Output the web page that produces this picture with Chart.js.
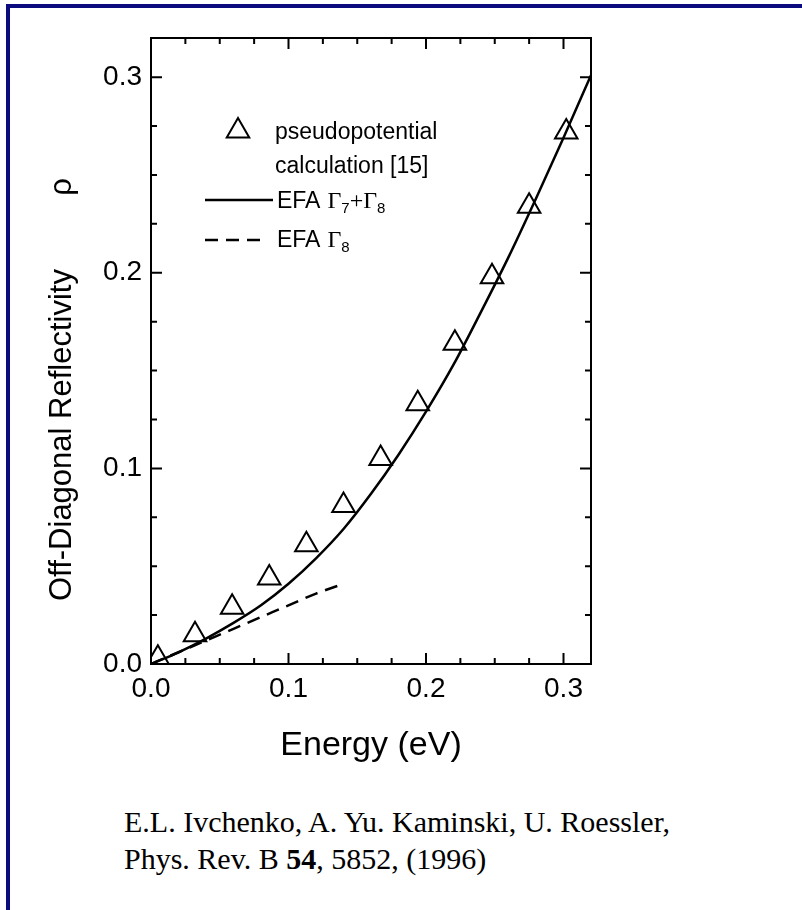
<!DOCTYPE html>
<html>
<head>
<meta charset="utf-8">
<title>Off-Diagonal Reflectivity</title>
<script src="https://cdn.jsdelivr.net/npm/chart.js@4.4.0/dist/chart.umd.min.js"></script>
<style>
  html, body { margin: 0; padding: 0; background: #fff; }
  body { width: 802px; height: 910px; position: relative; overflow: hidden; }
  #plotBox { position: absolute; left: 0; top: 0; width: 802px; height: 780px; }
  #frameTop { position: absolute; left: 6px; top: 4px; width: 796px; height: 4px; background: #0b0b7d; }
  #frameLeft { position: absolute; left: 6px; top: 4px; width: 4px; height: 906px; background: #0b0b7d; }
  #cite {
    position: absolute; left: 124px; top: 803px;
    font-family: "Liberation Serif", "Times New Roman", serif;
    font-size: 30px; line-height: 37px; color: #000;
  }
</style>
</head>
<body>
<div id="plotBox"><canvas id="reflChart"></canvas></div>
<div id="frameTop"></div>
<div id="frameLeft"></div>
<div id="cite">E.L. Ivchenko, A. Yu. Kaminski, U. Roessler,<br>Phys. Rev. B <b>54</b>, 5852, (1996)</div>

<script>
// pseudopotential calculation [15] (triangles)
const calcEnergy = [0.005, 0.032, 0.059, 0.086, 0.113, 0.140, 0.167, 0.194, 0.221, 0.248, 0.275, 0.302];
const calcRho    = [0.003, 0.015, 0.029, 0.044, 0.061, 0.081, 0.105, 0.133, 0.164, 0.198, 0.234, 0.272];

// EFA Gamma7+Gamma8 (solid line)
const efaEnergy = [0, 0.02, 0.04, 0.06, 0.08, 0.10, 0.12, 0.14, 0.16, 0.18, 0.20, 0.22, 0.24, 0.26, 0.28, 0.30, 0.32];
const efaRho    = [0, 0.006, 0.013, 0.021, 0.030, 0.041, 0.054, 0.069, 0.087, 0.107, 0.129, 0.153, 0.180, 0.208, 0.238, 0.269, 0.301];

// EFA Gamma8 (dashed line)
const g8Energy = [0, 0.02, 0.04, 0.06, 0.08, 0.10, 0.12, 0.14];
const g8Rho    = [0, 0.006, 0.012, 0.018, 0.024, 0.030, 0.036, 0.041];

// axes
const xTicks = [0.0, 0.1, 0.2, 0.3];
const yTicks = [0.0, 0.1, 0.2, 0.3];
const minorStep = 0.025;

const sans = '"Liberation Sans", Arial, Helvetica, sans-serif';
const serif = '"Liberation Serif", "Times New Roman", serif';

const toPoints = (xs, ys) => xs.map((x, i) => ({ x: x, y: ys[i] }));

// frame + inward ticks on all four sides
const insideTicks = {
  id: 'insideTicks',
  afterDraw(chart) {
    const { ctx, chartArea: a, scales: { x, y } } = chart;
    ctx.save();
    ctx.strokeStyle = '#000';
    ctx.lineWidth = 2;
    ctx.strokeRect(a.left, a.top, a.right - a.left, a.bottom - a.top);
    ctx.beginPath();
    const nx = Math.floor(x.max / minorStep + 1e-6);
    for (let i = 0; i <= nx; i++) {
      const px = x.getPixelForValue(i * minorStep);
      const len = i % 4 === 0 ? 11 : 6;
      ctx.moveTo(px, a.bottom); ctx.lineTo(px, a.bottom - len);
      ctx.moveTo(px, a.top); ctx.lineTo(px, a.top + len);
    }
    const ny = Math.floor(y.max / minorStep + 1e-6);
    for (let i = 0; i <= ny; i++) {
      const py = y.getPixelForValue(i * minorStep);
      const len = i % 4 === 0 ? 11 : 6;
      ctx.moveTo(a.left, py); ctx.lineTo(a.left + len, py);
      ctx.moveTo(a.right, py); ctx.lineTo(a.right - len, py);
    }
    ctx.stroke();
    ctx.restore();
  }
};

// rotated y axis title with the rho symbol set apart
const sideTitle = {
  id: 'sideTitle',
  afterDraw(chart) {
    const ctx = chart.ctx;
    ctx.save();
    ctx.translate(62, 601);
    ctx.rotate(-Math.PI / 2);
    ctx.fillStyle = '#000';
    ctx.textBaseline = 'middle';
    ctx.font = '31px ' + sans;
    ctx.textAlign = 'left';
    ctx.fillText('Off-Diagonal Reflectivity', 0, 0);
    ctx.textAlign = 'center';
    ctx.fillText('\u03C1', 414, 0);
    ctx.restore();
  }
};

function drawRun(ctx, x, y, parts) {
  parts.forEach(p => {
    ctx.font = p.font;
    ctx.fillText(p.text, x, y + (p.dy || 0));
    x += ctx.measureText(p.text).width + (p.gap || 0);
  });
}

// legend drawn inside the plot area
const keyBox = {
  id: 'keyBox',
  afterDraw(chart) {
    const ctx = chart.ctx;
    const main = '23px ' + sans;
    const sym = '24px ' + serif;
    const sub = '15px ' + sans;
    ctx.save();
    ctx.strokeStyle = '#000';
    ctx.fillStyle = '#000';
    ctx.lineWidth = 2;
    // triangle marker
    const r = 13, cx = 238, cy = 131;
    ctx.beginPath();
    ctx.moveTo(cx, cy - r);
    ctx.lineTo(cx + r * Math.sin(Math.PI / 3), cy + r / 2);
    ctx.lineTo(cx - r * Math.sin(Math.PI / 3), cy + r / 2);
    ctx.closePath();
    ctx.stroke();
    ctx.textBaseline = 'middle';
    ctx.textAlign = 'left';
    ctx.font = main;
    ctx.fillText('pseudopotential', 275, 133);
    ctx.fillText('calculation [15]', 275, 167);
    // solid line
    ctx.lineWidth = 2.5;
    ctx.beginPath();
    ctx.moveTo(205, 200); ctx.lineTo(273, 200);
    ctx.stroke();
    drawRun(ctx, 277, 202, [
      { text: 'EFA', font: main, gap: 7 },
      { text: '\u0393', font: sym },
      { text: '7', font: sub, dy: 7 },
      { text: '+', font: sym },
      { text: '\u0393', font: sym },
      { text: '8', font: sub, dy: 7 }
    ]);
    // dashed line
    ctx.setLineDash([13, 8]);
    ctx.beginPath();
    ctx.moveTo(205, 240); ctx.lineTo(265, 240);
    ctx.stroke();
    ctx.setLineDash([]);
    drawRun(ctx, 277, 241, [
      { text: 'EFA', font: main, gap: 7 },
      { text: '\u0393', font: sym },
      { text: '8', font: sub, dy: 7 }
    ]);
    ctx.restore();
  }
};

const ctx = document.getElementById('reflChart').getContext('2d');

new Chart(ctx, {
  type: 'scatter',
  data: {
    datasets: [
      {
        label: 'pseudopotential calculation [15]',
        data: toPoints(calcEnergy, calcRho),
        showLine: false,
        pointStyle: 'triangle',
        pointRadius: 13,
        pointBorderWidth: 2,
        pointBackgroundColor: 'rgba(0,0,0,0)',
        pointBorderColor: '#000'
      },
      {
        label: 'EFA \u03937+\u03938',
        data: toPoints(efaEnergy, efaRho),
        showLine: true,
        borderColor: '#000',
        borderWidth: 2.5,
        pointRadius: 0,
        cubicInterpolationMode: 'monotone'
      },
      {
        label: 'EFA \u03938',
        data: toPoints(g8Energy, g8Rho),
        showLine: true,
        borderColor: '#000',
        borderWidth: 2.5,
        borderDash: [13, 8],
        pointRadius: 0,
        cubicInterpolationMode: 'monotone'
      }
    ]
  },
  options: {
    responsive: true,
    maintainAspectRatio: false,
    animation: false,
    devicePixelRatio: 1,
    layout: { padding: { left: 0, top: 38, right: 211, bottom: 0 } },
    scales: {
      x: {
        type: 'linear',
        min: 0,
        max: 0.32,
        afterBuildTicks: s => { s.ticks = xTicks.map(v => ({ value: v })); },
        afterFit: s => { s.height = 116; },
        grid: { display: false, drawTicks: false },
        border: { display: false },
        ticks: {
          padding: 8,
          color: '#000',
          font: { family: sans, size: 28 },
          callback: v => v.toFixed(1)
        },
        title: {
          display: true,
          text: 'Energy (eV)',
          color: '#000',
          font: { family: sans, size: 34 },
          padding: { top: 0, bottom: 14 }
        }
      },
      y: {
        type: 'linear',
        min: 0,
        max: 0.32,
        afterBuildTicks: s => { s.ticks = yTicks.map(v => ({ value: v })); },
        afterFit: s => { s.width = 151; },
        grid: { display: false, drawTicks: false },
        border: { display: false },
        ticks: {
          padding: 9,
          color: '#000',
          font: { family: sans, size: 28 },
          callback: v => v.toFixed(1)
        }
      }
    },
    plugins: {
      legend: { display: false },
      tooltip: { enabled: false }
    }
  },
  plugins: [insideTicks, sideTitle, keyBox]
});
</script>
</body>
</html>
